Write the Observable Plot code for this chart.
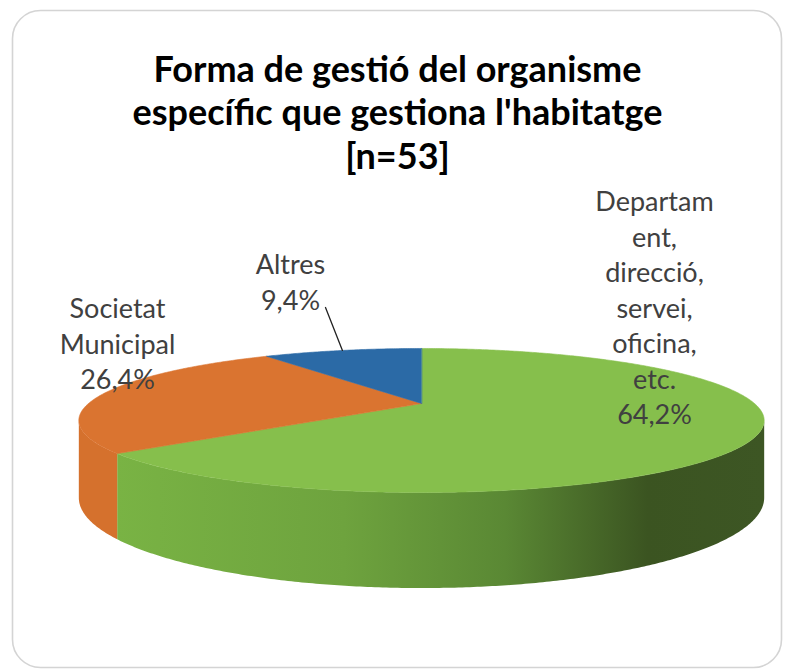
<!DOCTYPE html>
<html><head><meta charset="utf-8">
<script src="https://cdn.jsdelivr.net/npm/d3@7"></script>
<script src="https://cdn.jsdelivr.net/npm/@observablehq/plot@0.6"></script>
<style>body{margin:0;background:#fff}#chart svg{display:block}</style>
</head><body><div id="chart"></div>
<script>
// ---- data ----
const categories = ["Departament, direcció, servei, oficina, etc.", "Societat Municipal", "Altres"];
const values = [64.2, 26.4, 9.4];
const labelNames = [["Departam", "ent,", "direcció,", "servei,", "oficina,", "etc."], ["Societat", "Municipal"], ["Altres"]];
const colors = ["#86bf4c", "#da7430", "#2b6aa6"];
const titleLines = ["Forma de gestió del organisme", "específic que gestiona l'habitatge", "[n=53]"];

// ---- layout ----
const W = 785, H = 669;
const cx = 421, cy = 403, rx = 333, ry = 68, k = 0.236, depth = 73;
const fmt = v => v.toFixed(1).replace(".", ",") + "%";

function proj(a, h = 0) {
  const X = Math.sin(a), Z = Math.cos(a), s = 1 / (1 + k * Z);
  return {x: cx + rx * X * s, y: cy - ry * Z * s + h * depth * s};
}
function arc(a0, a1, h) {
  const n = Math.max(2, Math.ceil(Math.abs(a1 - a0) / (Math.PI / 360)));
  return d3.range(n + 1).map(i => proj(a0 + (a1 - a0) * i / n, h));
}

const arcs = d3.pie().sort(null).value(d => d)(values);
const aR = Math.acos(-k), aL = 2 * Math.PI - aR; // visible side range

const marks = [];
// side walls
const sideFills = ["url(#greenSide)", "#d5712d", "#245c91"];
arcs.forEach((p, i) => {
  const lo = Math.max(p.startAngle, aR), hi = Math.min(p.endAngle, aL);
  if (lo < hi) {
    const pts = [...arc(lo, hi, 0), ...arc(hi, lo, 1)];
    marks.push(Plot.line(pts, {x: "x", y: "y", fill: sideFills[i], stroke: "none", curve: "linear-closed"}));
  }
});
// top faces
arcs.forEach((p, i) => {
  const pts = [{x: cx, y: cy}, ...arc(p.startAngle, p.endAngle, 0)];
  marks.push(Plot.line(pts, {x: "x", y: "y", fill: colors[i], stroke: colors[i], strokeWidth: 0.6, curve: "linear-closed"}));
});

// labels
const labelPos = [{x: 654, y: 306}, {x: 117, y: 342}, {x: 290, y: 280}];
const labels = arcs.map((p, i) => ({
  x: labelPos[i].x, y: labelPos[i].y,
  text: [...labelNames[i], fmt(values[i])].join("\n")
}));
// leader line for the small slice
const small = arcs[2];
const rim = proj((small.startAngle + small.endAngle) / 2, 0);
const leader = [{x: 325, y: 307}, {x: rim.x, y: rim.y}];

marks.push(
  Plot.line(leader, {x: "x", y: "y", stroke: "#222", strokeWidth: 1.3}),
  Plot.text(labels, {x: "x", y: "y", text: "text", fontSize: 27, lineHeight: 35.5 / 27, fill: "#404040",
    fontFamily: "Lato, sans-serif", textAnchor: "middle", lineAnchor: "middle"}),
  Plot.text([titleLines.join("\n")], {x: () => 397, y: () => 111, text: d => d, fontSize: 36, fontWeight: "bold",
    lineHeight: 43.5 / 36, fill: "#000", fontFamily: "Lato, sans-serif", textAnchor: "middle", lineAnchor: "middle"}),
  Plot.frame({stroke: "#d4d4d4", strokeWidth: 1.6, rx: 28, insetLeft: 12, insetTop: 10, insetRight: 4, insetBottom: 2})
);

const svg = Plot.plot({
  width: W, height: H, margin: 0,
  x: {domain: [0, W], range: [0, W], axis: null},
  y: {domain: [0, H], range: [0, H], axis: null},
  style: {background: "#fff"},
  marks
});

// gradient for the front wall
const gx0 = proj(arcs[0].endAngle).x, gx1 = proj(aR).x;
const g = d3.select(svg).insert("defs", ":first-child").append("linearGradient")
  .attr("id", "greenSide").attr("gradientUnits", "userSpaceOnUse")
  .attr("x1", gx0).attr("x2", gx1).attr("y1", 0).attr("y2", 0);
[[0, "#79b344"], [0.35, "#6ea33e"], [0.6, "#5a8834"], [0.82, "#3b5421"], [1, "#3d5624"]]
  .forEach(([o, c]) => g.append("stop").attr("offset", o).attr("stop-color", c));

document.getElementById("chart").append(svg);
</script>
</body></html>
